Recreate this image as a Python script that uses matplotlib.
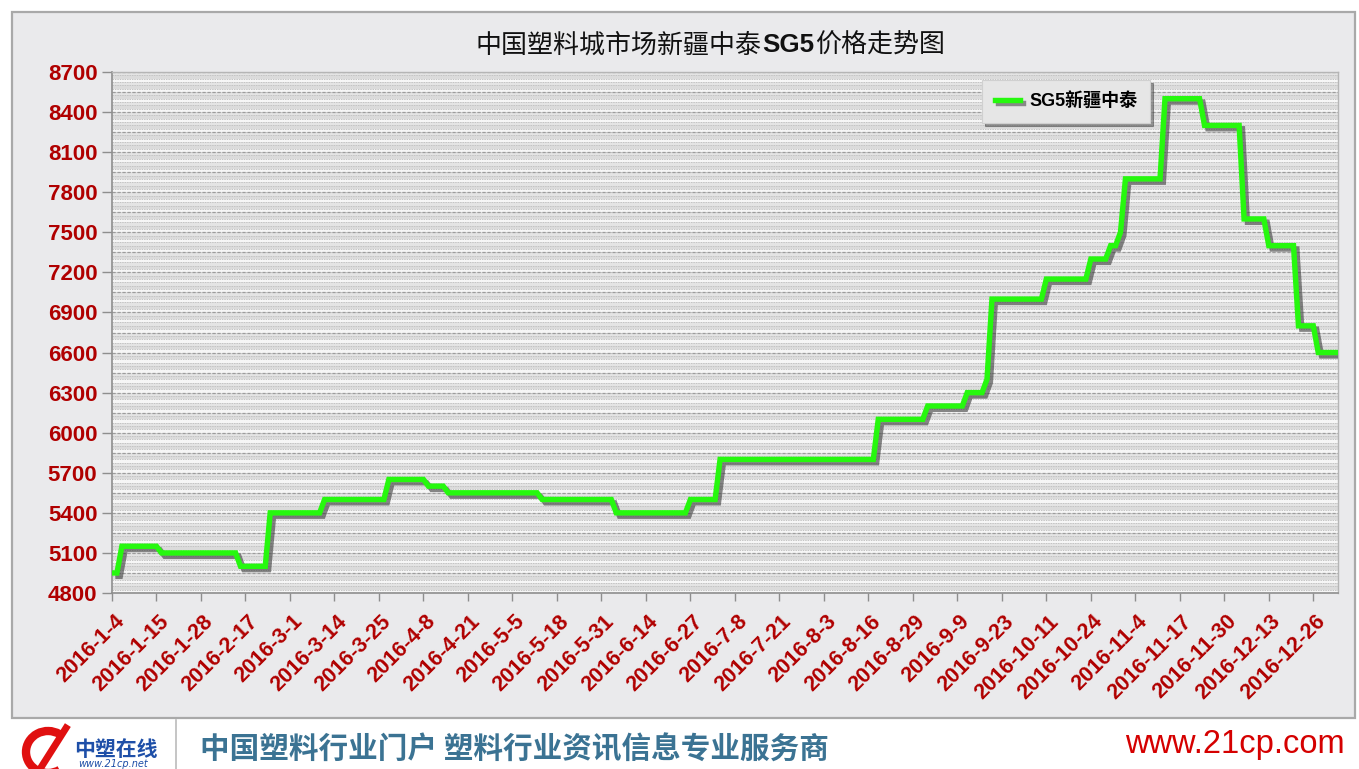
import matplotlib
matplotlib.use("Agg")
import matplotlib.pyplot as plt
import matplotlib.patheffects as pe
import matplotlib.transforms as mtransforms
from matplotlib.patches import Rectangle, Arc
from matplotlib.lines import Line2D

# ---------------- data ----------------
tick_labels = ["2016-1-4", "2016-1-15", "2016-1-28", "2016-2-17", "2016-3-1", "2016-3-14",
               "2016-3-25", "2016-4-8", "2016-4-21", "2016-5-5", "2016-5-18", "2016-5-31",
               "2016-6-14", "2016-6-27", "2016-7-8", "2016-7-21", "2016-8-3", "2016-8-16",
               "2016-8-29", "2016-9-9", "2016-9-23", "2016-10-11", "2016-10-24", "2016-11-4",
               "2016-11-17", "2016-11-30", "2016-12-13", "2016-12-26"]
tick_step = 9          # trading days between labels
last_day = 248         # index of last trading day shown

# price levels (yuan/ton) and the trading-day index at which each level begins
level_start = [0, 2, 10, 26, 32, 43, 56, 64, 68, 87, 102, 117, 123, 155, 165, 173, 177, 178,
               189, 198, 202, 204, 205, 213, 221, 229, 234, 240, 244]
level_price = [4950, 5150, 5100, 5000, 5400, 5500, 5650, 5600, 5550, 5500, 5400, 5500, 5800,
               6100, 6200, 6300, 6400, 7000, 7150, 7300, 7400, 7500, 7900, 8500, 8300, 7600,
               7400, 6800, 6600]

series_name = "SG5新疆中泰"
y_ticks = [4800, 5100, 5400, 5700, 6000, 6300, 6600, 6900, 7200, 7500, 7800, 8100, 8400, 8700]

# ---------------- figure ----------------
W, H = 1359, 769
fig = plt.figure(figsize=(W / 100, H / 100), dpi=100)
fig.patch.set_facecolor("white")

def fx(px):
    return px / W

def fy(py):
    return 1 - py / H

# outer grey frame
fig.patches.append(Rectangle((fx(12), fy(718)), fx(1355) - fx(12), fy(12) - fy(718),
                             transform=fig.transFigure, facecolor="#EAEAEC",
                             edgecolor="#A9A9A9", lw=1.6, zorder=-10))

ax = fig.add_axes([fx(112), fy(593), fx(1338) - fx(112), fy(72) - fy(593)])
ax.set_zorder(2)
ax.set_xlim(0, last_day)
ax.set_ylim(4800, 8700)

# striped background
ax.set_facecolor("#E4E4E4")
v = 4800
k = 0
while v < 8700:
    phase = k % 6
    if phase in (0, 3):
        ax.axhspan(v, v + 25, color="#F6F6F6", lw=0, zorder=0)
    elif phase in (1, 4):
        ax.axhspan(v, v + 25, color="#DBDBDB", lw=0, zorder=0)
    ax.axhline(v, color="#C4C4C4", lw=0.7, ls=(0, (1.5, 1)), zorder=0.5)
    v += 25
    k += 1
for yv in range(4800, 8701, 150):
    ax.axhline(yv, color="#9C9C9C", lw=0.9, ls=(0, (2.5, 1.5)), zorder=0.6)

# build polyline vertices from the level table
xs, ys = [], []
for i, (s, p) in enumerate(zip(level_start, level_price)):
    e = level_start[i + 1] - 1 if i + 1 < len(level_start) else last_day
    xs += [s, e]
    ys += [p, p]

line_color = "#26F80E"
shadow = [pe.SimpleLineShadow(offset=(2.4, -2.4), shadow_color="#3A3A3A", alpha=0.6),
          pe.Normal()]
ax.plot(xs, ys, color=line_color, lw=3.9, solid_joinstyle="miter",
        solid_capstyle="butt", path_effects=shadow, zorder=5)

# axes styling
for sp in ["top", "right"]:
    ax.spines[sp].set_color("#B5B5B5")
    ax.spines[sp].set_linewidth(1.0)
for sp in ["left", "bottom"]:
    ax.spines[sp].set_color("#8E8E8E")
    ax.spines[sp].set_linewidth(1.2)

ax.set_yticks(y_ticks)
ax.set_yticklabels([str(t) for t in y_ticks])
ax.set_xticks([i * tick_step for i in range(len(tick_labels))])
ax.set_xticklabels(tick_labels)
ax.tick_params(axis="y", direction="out", length=7.5, width=1, color="#8E8E8E",
               labelsize=16, labelcolor="#B00000", pad=3)
ax.tick_params(axis="x", direction="out", length=6, width=1, color="#8E8E8E",
               labelsize=15.5, labelcolor="#B00000", pad=8)
for lab in ax.get_yticklabels():
    lab.set_fontfamily(["Liberation Sans", "DejaVu Sans"])
    lab.set_fontweight("bold")
shift = mtransforms.ScaledTranslation(9 / 100, -6 / 100, fig.dpi_scale_trans)
for lab in ax.get_xticklabels():
    lab.set_fontfamily(["Liberation Sans", "DejaVu Sans"])
    lab.set_fontweight("bold")
    lab.set_rotation(45)
    lab.set_ha("right")
    lab.set_va("center")
    lab.set_rotation_mode("anchor")
    lab.set_transform(lab.get_transform() + shift)

# legend
handle = Line2D([0], [0], color=line_color, lw=3.9,
                path_effects=[pe.SimpleLineShadow(offset=(2, -2), shadow_color="#3C3C3C", alpha=0.55),
                              pe.Normal()])
leg = ax.legend([handle], [series_name], loc="upper left", bbox_to_anchor=(0.710, 0.985),
                borderaxespad=0, frameon=True, fancybox=False, shadow=True,
                facecolor="#E6E6E6", edgecolor="#D0D0D0", framealpha=1, handlelength=1.4,
                handletextpad=0.5, borderpad=0.7,
                prop={"family": ["Liberation Sans", "Noto Sans CJK SC"],
                      "weight": "bold", "size": 13})
leg.get_frame().set_linewidth(0.8)

# title (mixed fonts)
cjk = ["Noto Sans CJK SC", "DejaVu Sans"]
t1 = fig.text(fx(475), fy(42), "中国塑料城市场新疆中泰", fontsize=18.7, family=cjk,
              color="#111111", ha="left", va="center_baseline")
t2 = fig.text(0, 0, "SG5", fontsize=18.7, family=["Liberation Sans"], weight="bold",
              color="#111111")
t3 = fig.text(0, 0, "价格走势图", fontsize=18.7, family=cjk, color="#111111")
fig.canvas.draw()
r = fig.canvas.get_renderer()
bb1 = t1.get_window_extent(r)
t2.set_position(((bb1.x1 + 1) / W, t1.get_position()[1]))
t2.set_va("center_baseline")
fig.canvas.draw()
bb2 = t2.get_window_extent(r)
t3.set_position(((bb2.x1 + 1) / W, t1.get_position()[1]))
t3.set_va("center_baseline")

# footer
fig.add_artist(Line2D([fx(176), fx(176)], [0, fy(720)], color="#BBBBBB", lw=1.2,
                      transform=fig.transFigure))
fig.text(fx(200), fy(750), "中国塑料行业门户 塑料行业资讯信息专业服务商", fontsize=21.3,
         family=cjk, weight="bold", color="#3B7393", ha="left", va="center")
fig.text(fx(1345), fy(745), "www.21cp.com", fontsize=23.5, family=["Liberation Sans"],
         color="#D50000", ha="right", va="center")

# logo
fig.patches.append(Arc((fx(48), fy(752)), fx(44), fy(730) - fy(772), theta1=70, theta2=290,
                       transform=fig.transFigure, color="#E01010", lw=6))
fig.add_artist(Line2D([fx(40), fx(66)], [fy(769), fy(728)], color="#E01010", lw=5,
                      transform=fig.transFigure))
fig.text(fx(74), fy(749), "中塑在线", fontsize=15, family=cjk, weight="bold",
         style="italic", color="#1E4FA8", ha="left", va="center")
fig.text(fx(78), fy(764), "www.21cp.net", fontsize=7, family=["DejaVu Sans"],
         style="italic", color="#1E4FA8", ha="left", va="center")

fig.savefig("out.png", dpi=100)
